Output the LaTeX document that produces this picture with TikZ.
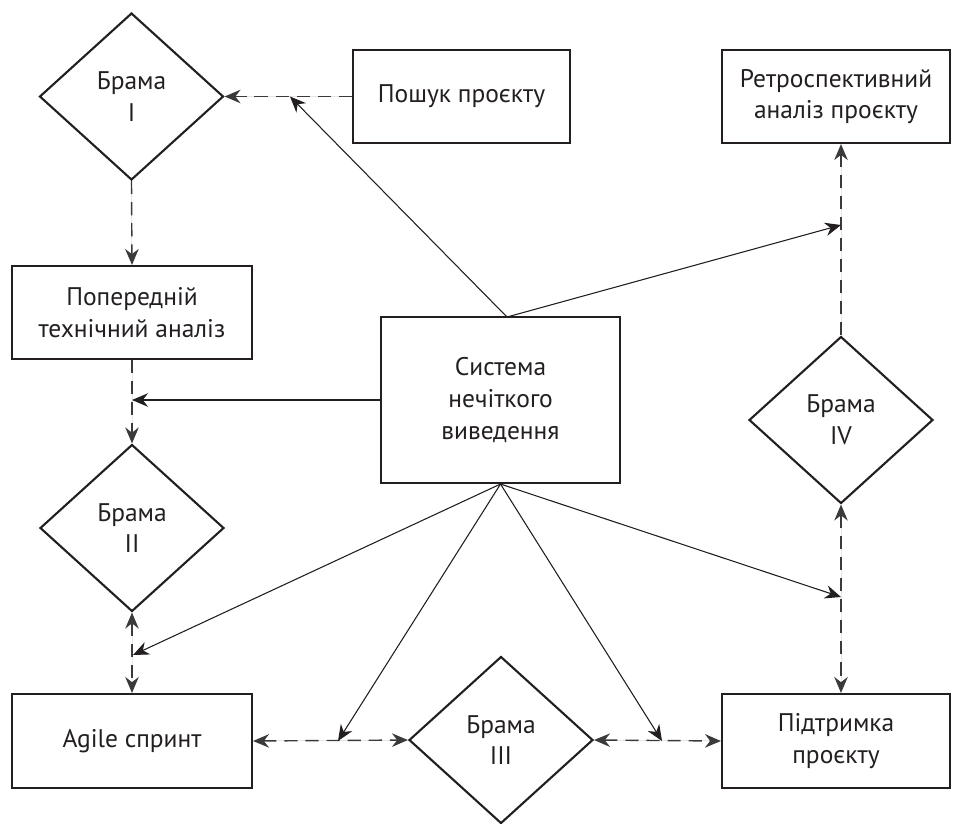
\documentclass[tikz,border=0pt]{standalone}
\usepackage{fontspec}
\setmainfont{PT Sans}
\usetikzlibrary{shapes.geometric,arrows.meta}

\definecolor{ink}{HTML}{231F20}
\definecolor{dashink}{HTML}{3A3A3C}

\tikzset{
  blok/.style={draw=ink, line width=1.2pt, inner sep=2pt, align=center, text=ink,
    font=\fontsize{14.5}{18}\selectfont},
  brama/.style={diamond, draw=ink, line width=1.2pt, inner sep=0pt, align=center, text=ink,
    minimum width=3.68cm, minimum height=3.34cm, font=\fontsize{14.5}{18}\selectfont},
  tip/.style={-{Stealth[length=0.32cm,width=0.27cm]}},
  tips/.style={{Stealth[length=0.32cm,width=0.27cm]}-{Stealth[length=0.32cm,width=0.27cm]}},
  potik/.style={draw=dashink, fill=dashink, line width=0.8pt, dash pattern=on 7.5pt off 4.5pt},
  vplyv/.style={draw=ink, fill=ink, line width=0.6pt}
}

\begin{document}
\begin{tikzpicture}[x=0.02cm, y=0.02cm]
  \useasboundingbox (0,0) rectangle (953,-823);
  % gates
  \node[brama] (gate1) at (131.5,-96.5) {Брама\\I};
  \node[brama] (gate2) at (132,-528) {Брама\\II};
  \node[brama] (gate3) at (501,-740) {Брама\\III};
  \node[brama] (gate4) at (841,-420) {Брама\\IV};
  % boxes
  \node[blok, minimum width=4.34cm, minimum height=1.86cm] (search) at (461.5,-96.5) {Пошук проєкту};
  \node[blok, minimum width=4.56cm, minimum height=1.86cm] (retro) at (836,-96.5) {Ретроспективний\\аналіз проєкту};
  \node[blok, minimum width=4.8cm, minimum height=1.86cm] (prelim) at (132,-312.5) {Попередній\\технічний аналіз};
  \node[blok, minimum width=4.78cm, minimum height=3.32cm] (system) at (500.5,-400) {Система\\нечіткого\\виведення};
  \node[blok, minimum width=4.8cm, minimum height=1.88cm] (agile) at (132,-741) {Agile спринт};
  \node[blok, minimum width=4.56cm, minimum height=1.88cm] (support) at (836,-741) {Підтримка\\проєкту};
  % points on the dashed lines
  \coordinate (j1) at (290,-96.5);
  \coordinate (j2) at (841,-225);
  \coordinate (j3) at (132,-400);
  \coordinate (j4) at (133,-655);
  \coordinate (j5) at (338,-741);
  \coordinate (j6) at (662,-741);
  \coordinate (j7) at (841,-597);
  \coordinate (sys top) at (507,-317);
  % dashed flow
  \draw[potik, tip] (search.west) -- (gate1.east);
  \draw[potik, tip] (gate1.south) -- (prelim.north);
  \draw[potik, tip] (prelim.south) -- (gate2.north);
  \draw[potik, tips] (gate2.south) -- (agile.north);
  \draw[potik, tips] (agile.east) -- (gate3.west);
  \draw[potik, tips] (gate3.east) -- (support.west);
  \draw[potik, tips] (gate4.south) -- (gate4.south |- support.north);
  \draw[potik, tip] (gate4.north) -- (gate4.north |- retro.south);
  % influence of the fuzzy system
  \draw[vplyv, tip] (sys top) -- (j1);
  \draw[vplyv, tip] (sys top) -- (j2);
  \draw[vplyv, tip] (system.west) -- (j3);
  \draw[vplyv, tip] (system.south) -- (j4);
  \draw[vplyv, tip] (system.south) -- (j5);
  \draw[vplyv, tip] (system.south) -- (j6);
  \draw[vplyv, tip] (system.south) -- (j7);
\end{tikzpicture}
\end{document}
